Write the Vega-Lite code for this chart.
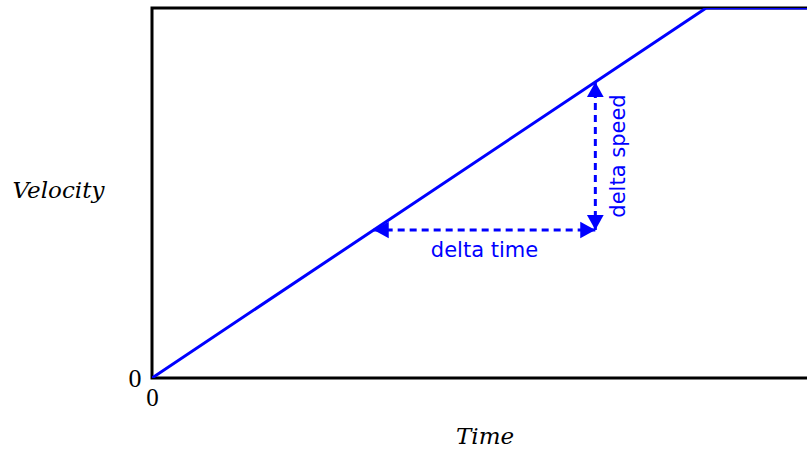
{
  "$schema": "https://vega.github.io/schema/vega-lite/v6.json",
  "autosize": {"type": "none"},
  "width": 665,
  "height": 370,
  "padding": {"left": 152, "top": 8, "right": 0, "bottom": 72},
  "background": "white",
  "config": {
    "view": {"stroke": "black", "strokeWidth": 3},
    "axis": {"grid": false, "domain": false, "ticks": false}
  },
  "datasets": {
    "curve": [
      {"t": 0, "v": 0},
      {"t": 10, "v": 10},
      {"t": 12, "v": 10}
    ],
    "arrows": [
      {"arrow": "time", "t": 4, "v": 4},
      {"arrow": "time", "t": 8, "v": 4},
      {"arrow": "speed", "t": 8, "v": 4},
      {"arrow": "speed", "t": 8, "v": 8}
    ],
    "heads": [
      {"dir": "left", "t": 4, "v": 4},
      {"dir": "right", "t": 8, "v": 4},
      {"dir": "down", "t": 8, "v": 4},
      {"dir": "up", "t": 8, "v": 8}
    ],
    "labels": [
      {"label": "delta time", "t": 6, "v": 4}
    ],
    "vlabels": [
      {"label": "delta speed", "t": 8, "v": 6}
    ]
  },
  "layer": [
    {
      "data": {"name": "curve"},
      "mark": {"type": "line", "color": "#0000FF", "strokeWidth": 3, "clip": true},
      "encoding": {
        "x": {
          "field": "t", "type": "quantitative",
          "scale": {"domain": [0, 12], "nice": false, "zero": false},
          "axis": {
            "values": [0], "format": "d", "title": "Time",
            "labelFont": "Liberation Serif", "labelFontSize": 25, "labelColor": "black",
            "labelPadding": 7, "labelAlign": "center",
            "titleFont": "DejaVu Serif", "titleFontStyle": "italic", "titleFontWeight": "normal",
            "titleFontSize": 23, "titleColor": "black",
            "titleBaseline": "middle", "titleY": 58
          }
        },
        "y": {
          "field": "v", "type": "quantitative",
          "scale": {"domain": [0, 10], "nice": false, "zero": false},
          "axis": {
            "values": [0], "format": "d", "title": "Velocity",
            "labelFont": "Liberation Serif", "labelFontSize": 26, "labelColor": "black",
            "labelPadding": 11,
            "titleFont": "DejaVu Serif", "titleFontStyle": "italic", "titleFontWeight": "normal",
            "titleFontSize": 23, "titleColor": "black",
            "titleAngle": 0, "titleAlign": "center", "titleBaseline": "middle",
            "titleX": -94, "titleY": 182
          }
        }
      }
    },
    {
      "data": {"name": "arrows"},
      "mark": {"type": "line", "color": "#0000FF", "strokeWidth": 3, "strokeDash": [7, 5]},
      "encoding": {
        "x": {"field": "t", "type": "quantitative"},
        "y": {"field": "v", "type": "quantitative"},
        "detail": {"field": "arrow"}
      }
    },
    {
      "data": {"name": "heads"},
      "mark": {"type": "point", "filled": true, "color": "#0000FF", "opacity": 1, "size": 280},
      "encoding": {
        "x": {"field": "t", "type": "quantitative"},
        "y": {"field": "v", "type": "quantitative"},
        "shape": {
          "field": "dir", "type": "nominal",
          "scale": {
            "domain": ["left", "right", "down", "up"],
            "range": ["M0,0L1.8,-1L1.8,1Z", "M0,0L-1.8,-1L-1.8,1Z", "M0,0L-1,-1.8L1,-1.8Z", "M0,0L-1,1.8L1,1.8Z"]
          },
          "legend": null
        }
      }
    },
    {
      "data": {"name": "labels"},
      "mark": {"type": "text", "color": "#0000FF", "font": "DejaVu Sans", "fontSize": 21, "dy": 21, "baseline": "middle", "align": "center"},
      "encoding": {
        "x": {"field": "t", "type": "quantitative"},
        "y": {"field": "v", "type": "quantitative"},
        "text": {"field": "label"}
      }
    },
    {
      "data": {"name": "vlabels"},
      "mark": {"type": "text", "color": "#0000FF", "font": "DejaVu Sans", "fontSize": 21, "angle": 270, "dy": 24, "baseline": "middle", "align": "center"},
      "encoding": {
        "x": {"field": "t", "type": "quantitative"},
        "y": {"field": "v", "type": "quantitative"},
        "text": {"field": "label"}
      }
    }
  ]
}
